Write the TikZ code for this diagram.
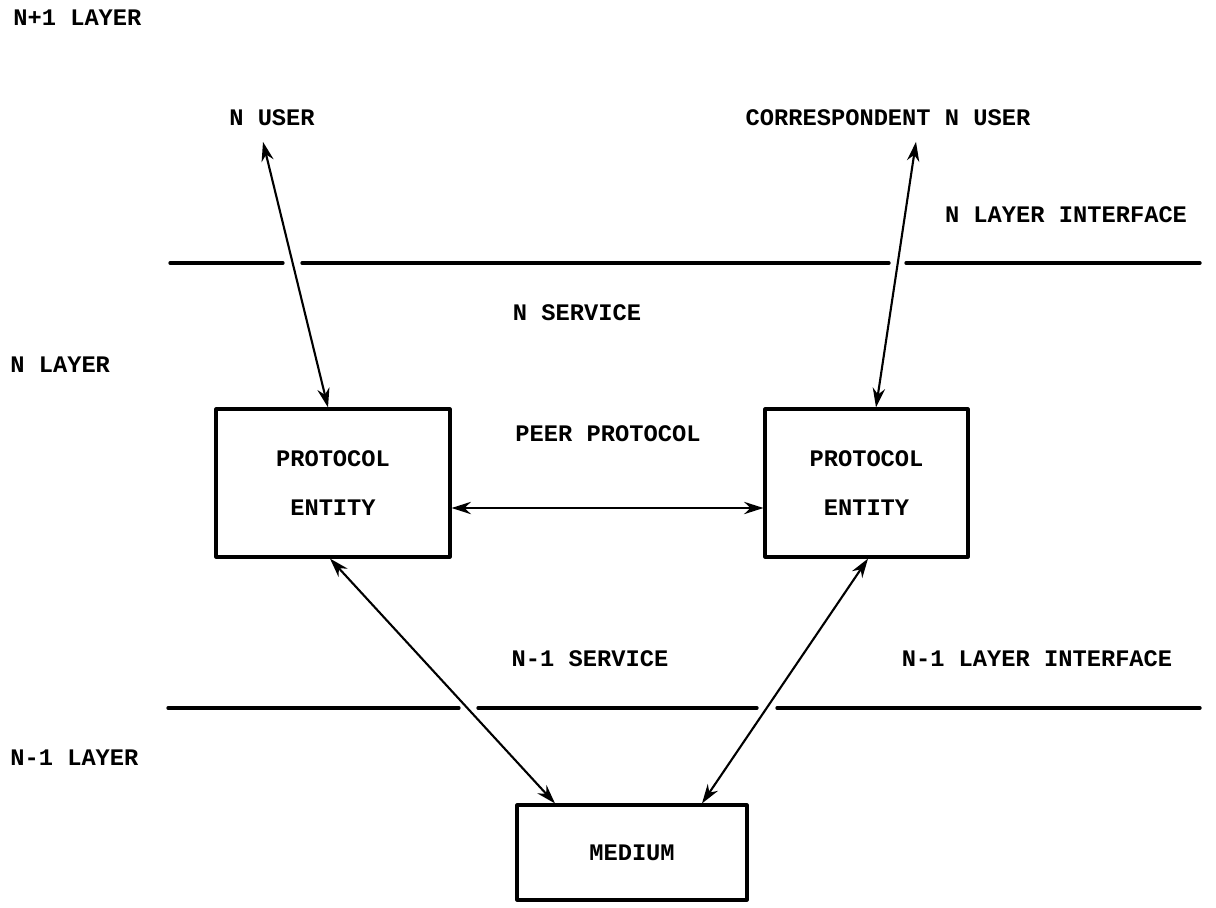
\documentclass[tikz,border=0pt]{standalone}
\usepackage{fontspec}
\setmonofont{Liberation Mono}
\usetikzlibrary{arrows.meta}

\begin{document}
\begin{tikzpicture}[line cap=round, line join=round,
                    x=0.02cm, y=-0.02cm,
  lbl/.style={font=\ttfamily\bfseries\fontsize{13.5}{15}\selectfont, inner sep=0pt},
  ent/.style={draw, line width=1.8pt, inner sep=0pt, align=center,
              font=\ttfamily\bfseries\fontsize{13.5}{27.8}\selectfont},
  arr/.style={{Stealth[length=11pt,width=7pt]}-{Stealth[length=11pt,width=7pt]},
              line width=1.2pt},
  bar/.style={line width=1.9pt}]
\useasboundingbox (0,0) rectangle (1216,907);
% layer names
\node[lbl, anchor=west] (upl) at (13,18) {N+1 LAYER};
\node[lbl, anchor=west] (nl) at (10,365) {N LAYER};
\node[lbl, anchor=west] (lowl) at (10,758) {N-1 LAYER};
% users
\node[lbl] (nuser) at (272,118) {N USER};
\node[lbl] (cuser) at (888,118) {CORRESPONDENT N USER};
% service and interface labels
\node[lbl] (nif) at (1066,215) {N LAYER INTERFACE};
\node[lbl] (nsrv) at (577,313) {N SERVICE};
\node[lbl] (peer) at (608,434) {PEER PROTOCOL};
\node[lbl] (lsrv) at (590,659) {N-1 SERVICE};
\node[lbl] (lif) at (1037,659) {N-1 LAYER INTERFACE};
% boxes
\node[ent, minimum width=4.68cm, minimum height=2.96cm] (lent) at (333,483)
  {PROTOCOL\\ENTITY};
\node[ent, minimum width=4.06cm, minimum height=2.96cm] (rent) at (866.5,483)
  {PROTOCOL\\ENTITY};
\node[ent, minimum width=4.6cm, minimum height=1.9cm] (med) at (632,852.5)
  {MEDIUM};
% interfaces
\draw [bar] (170,263) -- (283,263);
\draw [bar] (302,263) -- (889,263);
\draw [bar] (906,263) -- (1200,263);
\draw [bar] (168,708) -- (459,708);
\draw [bar] (478,708) -- (757,708);
\draw [bar] (777,708) -- (1200,708);
% connectors
\draw [arr] ([xshift=-0.18cm, yshift=-0.31cm]nuser.south) -- ([xshift=-0.1cm]lent.north);
\draw [arr] ([xshift=0.56cm, yshift=-0.31cm]cuser.south) -- ([xshift=0.19cm]rent.north);
\draw [arr] ([yshift=-0.5cm]lent.east) -- ([yshift=-0.5cm]rent.west);
\draw [arr] ([xshift=-0.06cm]lent.south) -- ([xshift=-1.54cm]med.north);
\draw [arr] ([xshift=0.03cm]rent.south) -- ([xshift=1.4cm]med.north);
\end{tikzpicture}
\end{document}
